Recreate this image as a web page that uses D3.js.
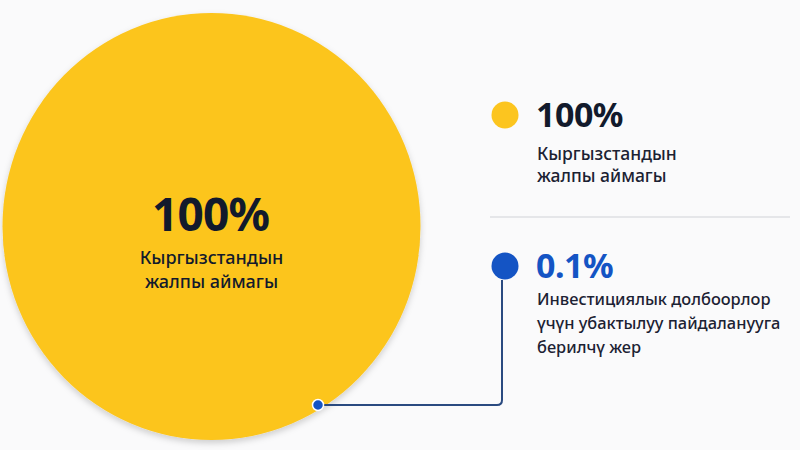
<!DOCTYPE html>
<html>
<head>
<meta charset="UTF-8">
<style>
  body { margin: 0; background: #fafafb; }
  svg { display: block; font-family: "Noto Sans", "Open Sans", sans-serif; }
</style>
</head>
<body>
<svg></svg>
<script src="https://d3js.org/d3.v7.min.js"></script>
<script>
  const width = 800, height = 450;

  // data
  const shares = [100, 0.1];
  const shareLabels = ["100%", "0.1%"];
  const descriptions = [
    ["Кыргызстандын", "жалпы аймагы"],
    ["Инвестициялык долбоорлор", "үчүн убактылуу пайдаланууга", "берилчү жер"]
  ];
  const colors = ["#fcc51f", "#1454c4"];

  const svg = d3.select("svg")
    .attr("width", width)
    .attr("height", height);

  // soft shadow under the big circle
  const defs = svg.append("defs");
  const f = defs.append("filter").attr("id", "shadow")
    .attr("x", "-10%").attr("y", "-10%").attr("width", "120%").attr("height", "120%");
  f.append("feDropShadow")
    .attr("dx", 0).attr("dy", 3).attr("stdDeviation", 3)
    .attr("flood-color", "#000").attr("flood-opacity", 0.18);

  // area scale: 100% -> full circle (picture is a bit squashed horizontally)
  const r = d3.scaleSqrt().domain([0, 100]).range([0, 213.5]);
  const cx = 211.5, cy = 226.5;

  svg.append("ellipse")
    .attr("cx", cx)
    .attr("cy", cy)
    .attr("rx", r(shares[0]) * 0.979)
    .attr("ry", r(shares[0]))
    .attr("fill", colors[0])
    .attr("filter", "url(#shadow)");

  // label in the middle of circle
  const mid = svg.append("g").attr("fill", "#121a2c").attr("text-anchor", "middle");
  mid.append("text")
    .attr("x", cx - 1).attr("y", 231)
    .attr("font-size", 46).attr("font-weight", 700)
    .attr("letter-spacing", -0.8)
    .text(shareLabels[0]);
  descriptions[0].forEach((t, i) => {
    mid.append("text")
      .attr("x", cx).attr("y", 264 + i * 24)
      .attr("font-size", 18).attr("font-weight", 500)
      .text(t);
  });

  // marker for 0.1% on the edge of circle
  const dotX = 318, dotY = 405;
  const legendX = 505;
  const legendY = [115, 266];

  // connector line
  const cr = 5;
  svg.append("path")
    .attr("d", `M${legendX - 3},${legendY[1] + 14} V${dotY - cr} Q${legendX - 3},${dotY} ${legendX - 3 - cr},${dotY} H${dotX}`)
    .attr("fill", "none")
    .attr("stroke", "#2a4a80")
    .attr("stroke-width", 2);

  svg.append("circle")
    .attr("cx", dotX).attr("cy", dotY).attr("r", 5.5)
    .attr("fill", colors[1])
    .attr("stroke", "#fff").attr("stroke-width", 1.5);

  // legend
  const textColors = ["#121a2c", colors[1]];
  const descSize = [17.5, 16.4];
  const descTop = [45, 39];
  const descStep = [22, 24];
  legendY.forEach((y, i) => {
    const g = svg.append("g");
    g.append("circle")
      .attr("cx", legendX).attr("cy", y).attr("r", 13.5)
      .attr("fill", colors[i]);
    g.append("text")
      .attr("x", 536).attr("y", y + 12)
      .attr("font-size", 34).attr("font-weight", 700)
      .attr("letter-spacing", -0.5)
      .attr("fill", textColors[i])
      .text(shareLabels[i]);
    descriptions[i].forEach((t, j) => {
      g.append("text")
        .attr("x", 537).attr("y", y + descTop[i] + j * descStep[i])
        .attr("font-size", descSize[i]).attr("font-weight", 500)
        .attr("fill", "#1c2233")
        .text(t);
    });
  });

  // divider
  svg.append("line")
    .attr("x1", 490).attr("x2", 790)
    .attr("y1", 217).attr("y2", 217)
    .attr("stroke", "#cfd2d8").attr("stroke-width", 1.2);
</script>
</body>
</html>
